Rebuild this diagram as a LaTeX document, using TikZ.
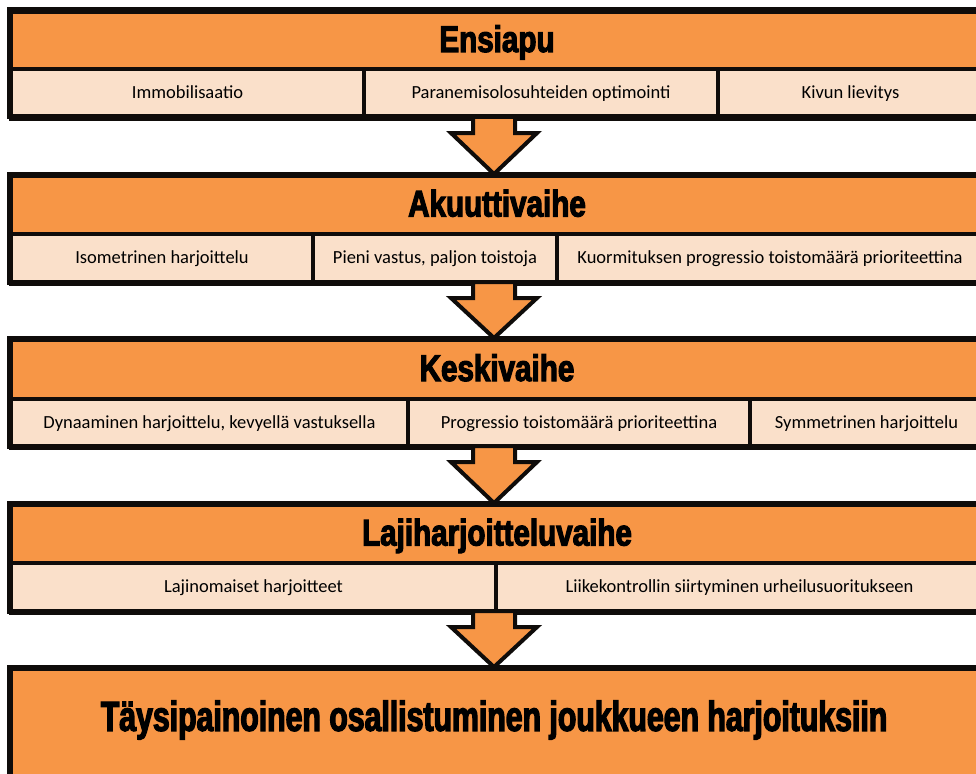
\documentclass[tikz,border=0pt]{standalone}
\usepackage{fontspec}
\usetikzlibrary{calc}
\newfontfamily\hfont{Liberation Sans}[UprightFont={* Bold},FakeStretch=0.8,FakeBold=3]
\newfontfamily\ffont{Liberation Sans}[UprightFont={* Bold},FakeStretch=0.72,FakeBold=3]
\newfontfamily\cfont{Carlito}
\definecolor{orng}{RGB}{247,150,70}
\definecolor{peach}{RGB}{250,224,202}
\definecolor{ink}{RGB}{15,12,10}
\tikzset{
  x=1pt,y=1pt,
  hdr/.style={draw=ink,line width=4pt,fill=orng,anchor=north west,inner sep=0pt,
    minimum width=972pt,minimum height=57pt,text height=26pt,text depth=3pt,
    font=\hfont\fontsize{37}{40}\selectfont},
  cell/.style={draw=ink,line width=4pt,fill=peach,anchor=north west,inner sep=0pt,
    minimum height=50pt,text height=13pt,text depth=4pt,
    font=\cfont\fontsize{18.5}{22}\selectfont},
  flow/.style={draw=ink,line width=4pt,fill=orng,line join=miter},
  outer/.style={draw=ink,line width=5pt}
}
\newcommand{\flowarrow}[2]{%
  \draw[flow] ($(#1)+(-21,0)$) -- ($(#1)+(21,0)$) -- ($(#1)+(21,-16)$) -- ($(#1)+(43,-16)$)
    -- (#2) -- ($(#1)+(-43,-16)$) -- ($(#1)+(-21,-16)$) -- cycle;}
\begin{document}
\begin{tikzpicture}
\clip (0,0) rectangle (976,-773);
% Block 1
\node[hdr] (h1) at (9,-10) {Ensiapu};
\node[cell,minimum width=353pt] (c11) at (9,-67) {Immobilisaatio};
\node[cell,minimum width=354pt] (c12) at (362,-67) {Paranemisolosuhteiden optimointi};
\node[cell,minimum width=265pt] (c13) at (716,-67) {Kivun lievitys};
\draw[outer] (9,-10) rectangle (981,-117);
% Block 2
\node[hdr,minimum height=58pt] (h2) at (9,-174) {Akuuttivaihe};
\node[cell] (c21) [minimum width=302pt] at (9,-232) {Isometrinen harjoittelu};
\node[cell] (c22) [minimum width=244pt] at (311,-232) {Pieni vastus, paljon toistoja};
\node[cell] (c23) [minimum width=426pt] at (555,-232) {Kuormituksen progressio toistomäärä prioriteettina};
\draw[outer] (9,-174) rectangle (981,-282);
% Block 3
\node[hdr,minimum height=59pt] (h3) at (9,-338) {Keskivaihe};
\node[cell,minimum height=49pt] (c31) [minimum width=397pt] at (9,-397) {Dynaaminen harjoittelu, kevyellä vastuksella};
\node[cell,minimum height=49pt] (c32) [minimum width=342pt] at (406,-397) {Progressio toistomäärä prioriteettina};
\node[cell,minimum height=49pt] (c33) [minimum width=233pt] at (748,-397) {Symmetrinen harjoittelu};
\draw[outer] (9,-338) rectangle (981,-446);
% Block 4
\node[hdr,minimum height=58pt] (h4) at (9,-503) {Lajiharjoitteluvaihe};
\node[cell] (c41) [minimum width=485pt] at (9,-561) {Lajinomaiset harjoitteet};
\node[cell] (c42) [minimum width=487pt] at (494,-561) {Liikekontrollin siirtyminen urheilusuoritukseen};
\draw[outer] (9,-503) rectangle (981,-611);
% Block 5
\node[hdr,minimum height=130pt] (h5) at (9,-667) {};
\node[font=\ffont\fontsize{42}{46}\selectfont,inner sep=0pt] (t5) at (494,-720) {Täysipainoinen osallistuminen joukkueen harjoituksiin};
\draw[outer] (9,-667) rectangle (981,-797);
% arrows
\coordinate (a1) at (494,-117);
\coordinate (a2) at (494,-282);
\coordinate (a3) at (494,-446);
\coordinate (a4) at (494,-611);
\flowarrow{a1}{a1 |- h2.north}
\flowarrow{a2}{a2 |- h3.north}
\flowarrow{a3}{a3 |- h4.north}
\flowarrow{a4}{a4 |- h5.north}
\end{tikzpicture}
\end{document}
